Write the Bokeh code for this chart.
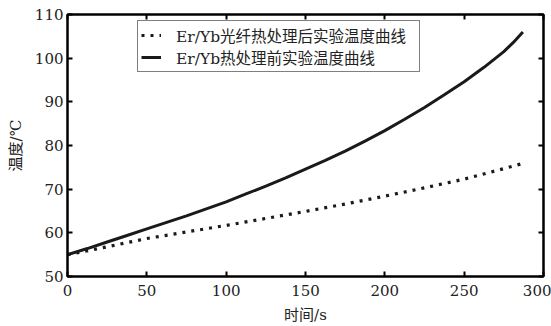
from bokeh.plotting import figure
from bokeh.models import LinearAxis, Legend, LegendItem, Range1d, FixedTicker
from bokeh.embed import file_html
from bokeh.resources import INLINE

# data
time_before = [0, 12.5, 25, 37.5, 50, 62.5, 75, 87.5, 100, 112.5, 125, 137.5, 150, 162.5,
               175, 187.5, 200, 212.5, 225, 237.5, 250, 262.5, 275, 281, 287]
temp_before = [55.0, 56.4, 57.9, 59.4, 60.9, 62.4, 63.9, 65.5, 67.1, 68.9, 70.7, 72.6, 74.6, 76.6,
               78.7, 81.0, 83.4, 86.0, 88.7, 91.6, 94.6, 97.9, 101.5, 103.6, 106.0]
time_after = [0, 25, 50, 75, 100, 125, 150, 175, 200, 225, 250, 275, 287]
temp_after = [55.0, 56.8, 58.7, 60.2, 61.7, 63.3, 64.9, 66.6, 68.4, 70.3, 72.3, 74.7, 75.9]
x_ticks = [0, 50, 100, 150, 200, 250, 300]
y_ticks = [50, 60, 70, 80, 90, 100, 110]
label_after = "Er/Yb光纤热处理后实验温度曲线"
label_before = "Er/Yb热处理前实验温度曲线"
x_label = "时间/s"
y_label = "温度/℃"

FONT = "'DejaVu Serif', 'Noto Sans CJK SC'"

p = figure(width=551, height=326, output_backend="svg", toolbar_location=None,
           x_range=Range1d(0, 300), y_range=Range1d(50, 110),
           min_border_left=67, min_border_right=8, min_border_top=14, min_border_bottom=50)
p.xgrid.visible = False
p.ygrid.visible = False
p.outline_line_color = "black"
p.outline_line_width = 2
p.background_fill_color = "white"
p.border_fill_color = "white"

r_after = p.line(time_after, temp_after, line_color="#1a1a1a", line_width=3.2,
                 line_dash="3 6", line_cap="butt")
r_before = p.line(time_before, temp_before, line_color="#1a1a1a", line_width=3)

def style(ax):
    ax.axis_line_width = 2
    ax.major_tick_in = 5
    ax.major_tick_out = 0
    ax.major_tick_line_width = 2
    ax.minor_tick_line_color = None
    ax.major_label_text_font = FONT
    ax.major_label_text_font_size = "15px"
    ax.major_label_text_color = "#222222"
    ax.axis_label_text_font = FONT
    ax.axis_label_text_font_size = "15px"
    ax.axis_label_text_font_style = "normal"
    ax.axis_label_text_color = "#222222"

style(p.xaxis[0])
p.xaxis[0].ticker = FixedTicker(ticks=x_ticks)
p.xaxis[0].axis_label = x_label
p.xaxis[0].major_label_standoff = 8
p.xaxis[0].axis_label_standoff = 7
style(p.yaxis[0])
p.yaxis[0].ticker = FixedTicker(ticks=y_ticks)
p.yaxis[0].axis_label = y_label
p.yaxis[0].major_label_standoff = 4
p.yaxis[0].axis_label_standoff = 7

top = LinearAxis(ticker=FixedTicker(ticks=x_ticks))
right = LinearAxis(ticker=FixedTicker(ticks=y_ticks))
for ax in (top, right):
    ax.axis_line_width = 2
    ax.major_tick_in = 5
    ax.major_tick_out = 0
    ax.major_tick_line_width = 2
    ax.minor_tick_line_color = None
    ax.major_label_text_font_size = "1px"
    ax.major_label_text_color = None
    ax.major_label_standoff = 0
p.add_layout(top, "above")
p.add_layout(right, "right")

legend = Legend(items=[LegendItem(label=label_after, renderers=[r_after]),
                       LegendItem(label=label_before, renderers=[r_before])],
                location=(70, 204))
legend.label_text_font = FONT
legend.label_text_font_size = "15.5px"
legend.label_text_color = "#222222"
legend.border_line_color = "black"
legend.border_line_width = 1.2
legend.glyph_width = 20
legend.glyph_height = 16
legend.label_height = 16
legend.label_width = 240
legend.spacing = 0
legend.padding = 3
legend.margin = 0
legend.label_standoff = 15
p.add_layout(legend)

open("out.html", "w").write(file_html(p, INLINE))
